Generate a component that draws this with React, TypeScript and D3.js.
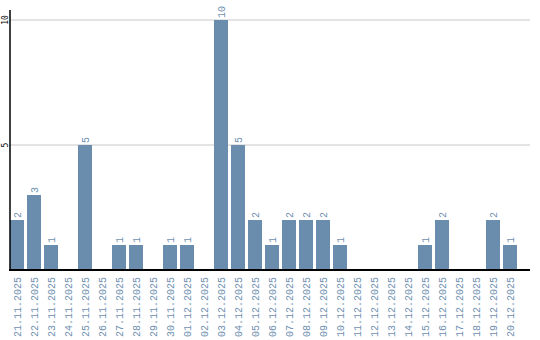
import React from "react";
import * as d3 from "d3";

const dates = [
  "21.11.2025","22.11.2025","23.11.2025","24.11.2025","25.11.2025","26.11.2025","27.11.2025","28.11.2025","29.11.2025","30.11.2025",
  "01.12.2025","02.12.2025","03.12.2025","04.12.2025","05.12.2025","06.12.2025","07.12.2025","08.12.2025","09.12.2025","10.12.2025",
  "11.12.2025","12.12.2025","13.12.2025","14.12.2025","15.12.2025","16.12.2025","17.12.2025","18.12.2025","19.12.2025","20.12.2025",
];
const counts = [2,3,1,0,5,0,1,1,0,1, 1,0,10,5,2,1,2,2,2,1, 0,0,0,0,1,2,0,0,2,1];
const yTicks = [5, 10];

const BAR = "#6a8cad";
const LABEL = "#6f8fb0";
const MONO = "'Liberation Mono', 'DejaVu Sans Mono', monospace";

export default function App() {
  const x = d3.scaleBand<string>().domain(dates).range([10, 517]).paddingInner(3 / 17).paddingOuter(0);
  const y = d3.scaleLinear().domain([0, 10]).range([270, 20]);
  return (
    <svg width={540} height={340} style={{ position: "absolute", left: 0, top: 0, background: "#fff" }}>
      {yTicks.map((t) => (
        <g key={t}>
          <line x1={10} x2={530} y1={y(t)} y2={y(t)} stroke="#c8c8c8" strokeWidth={1} />
          <text transform={`translate(8,${y(t)}) rotate(-90)`} textAnchor="middle" fontFamily="'DejaVu Sans Mono', monospace" fontSize={8} fill="#000">{t}</text>
        </g>
      ))}
      {dates.map((d, i) => {
        const v = counts[i];
        const cx = (x(d) ?? 0) + x.bandwidth() / 2;
        return (
          <g key={d}>
            {v > 0 && (
              <rect x={x(d)} y={y(v)} width={x.bandwidth()} height={y(0) - y(v)} fill={BAR} />
            )}
            {v > 0 && (
              <text transform={`translate(${cx + 4},${y(v) - 2}) rotate(-90)`} textAnchor="start" fontFamily={MONO} fontSize={10} fill={LABEL}>{v}</text>
            )}
            <text transform={`translate(${cx + 4},277) rotate(-90)`} textAnchor="end" fontFamily={MONO} fontSize={10} fill={LABEL}>{d}</text>
          </g>
        );
      })}
      <line x1={10} x2={10} y1={10} y2={271} stroke="#000" strokeWidth={1.5} />
      <line x1={9} x2={530} y1={270} y2={270} stroke="#000" strokeWidth={2} />
    </svg>
  );
}
